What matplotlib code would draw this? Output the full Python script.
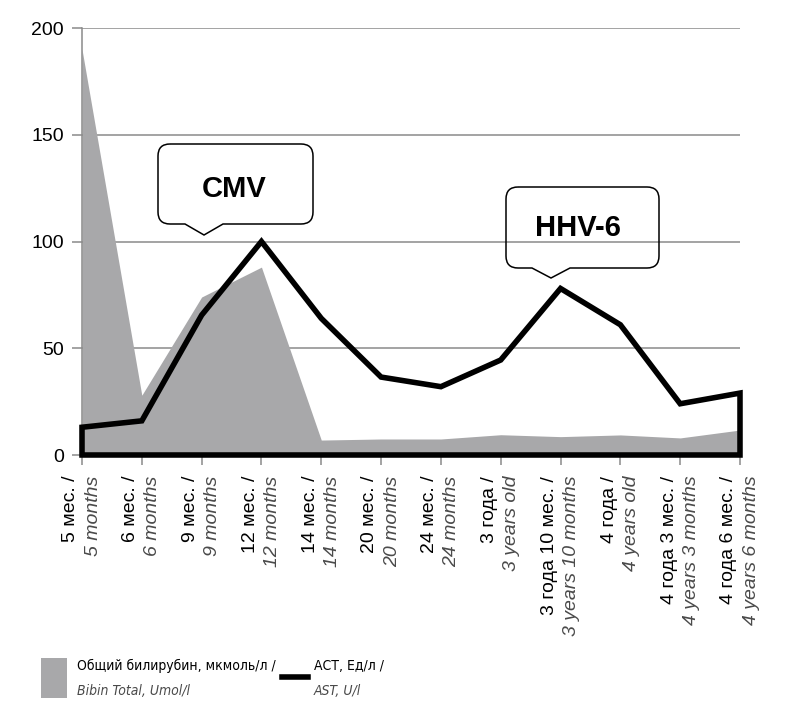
import matplotlib
matplotlib.use("Agg")
import matplotlib.pyplot as plt
from matplotlib import font_manager as fm
from matplotlib.path import Path
from matplotlib.patches import PathPatch, Rectangle
from matplotlib.lines import Line2D
from matplotlib.transforms import Affine2D, blended_transform_factory

plt.rcParams['font.family'] = ['Liberation Sans', 'DejaVu Sans']

labels_ru = ["5 мес. /", "6 мес. /", "9 мес. /", "12 мес. /", "14 мес. /", "20 мес. /",
             "24 мес. /", "3 года /", "3 года 10 мес. /", "4 года /", "4 года 3 мес. /",
             "4 года 6 мес. /"]
labels_en = ["5 months", "6 months", "9 months", "12 months", "14 months", "20 months",
             "24 months", "3 years old", "3 years 10 months", "4 years old",
             "4 years 3 months", "4 years 6 months"]
bilirubin = [190, 28, 74, 88, 7, 7.5, 7.5, 9.5, 8.6, 9.4, 8, 11.7]
ast = [13, 16, 65.5, 100, 64, 36.5, 32, 44.5, 78, 61, 24, 29]
yticks = [0, 50, 100, 150, 200]

W, H = 800, 719
fig = plt.figure(figsize=(W / 100, H / 100), dpi=100)
ax = fig.add_axes([82 / W, 1 - 455 / H, (740 - 82) / W, (455 - 28) / H])

x = list(range(len(labels_ru)))
grid_c = '#8a8a8a'
for v in yticks[1:]:
    ax.axhline(v, color=grid_c, lw=1.1, zorder=1)

ax.fill_between(x, bilirubin, 0, color='#a8a8aa', lw=0, zorder=2)

ast_x = [x[0]] + x + [x[-1]]
ast_y = [0] + ast + [0]
ax.fill(ast_x, ast_y, facecolor='none', edgecolor='black', lw=4.0,
        joinstyle='miter', zorder=3, clip_on=False)

ax.set_xlim(x[0], x[-1])
ax.set_ylim(0, 200)
ax.set_yticks(yticks)
ax.set_yticklabels([str(v) for v in yticks], fontsize=14)
ax.set_xticks(x)
ax.set_xticklabels([])
for s in ['top', 'right', 'bottom']:
    ax.spines[s].set_visible(False)
ax.spines['left'].set_color(grid_c)
ax.spines['left'].set_linewidth(1.1)
ax.tick_params(axis='y', length=7, width=1.1, color=grid_c, pad=6)
ax.tick_params(axis='x', length=7, width=1.1, color=grid_c)

trans = blended_transform_factory(ax.transData, ax.transAxes)
for i in x:
    ax.annotate(labels_ru[i], xy=(i, 0), xycoords=trans, xytext=(-8, -15),
                textcoords='offset points', rotation=90, ha='center', va='top',
                fontsize=14, color='black')
    ax.annotate(labels_en[i], xy=(i, 0), xycoords=trans, xytext=(8, -15),
                textcoords='offset points', rotation=90, ha='center', va='top',
                fontsize=14, color='#4a4a4a', style='italic')

# callouts (pixel coords, origin top-left)
px = Affine2D().scale(1 / W, -1 / H).translate(0, 1) + fig.transFigure


def callout(x0, y0, x1, y1, b0, b1, tx, ty, r=12):
    verts = [(x0 + r, y0), (x1 - r, y0), (x1, y0), (x1, y0 + r),
             (x1, y1 - r), (x1, y1), (x1 - r, y1),
             (b1, y1), (tx, ty), (b0, y1),
             (x0 + r, y1), (x0, y1), (x0, y1 - r),
             (x0, y0 + r), (x0, y0), (x0 + r, y0)]
    codes = [Path.MOVETO, Path.LINETO, Path.CURVE3, Path.CURVE3,
             Path.LINETO, Path.CURVE3, Path.CURVE3,
             Path.LINETO, Path.LINETO, Path.LINETO,
             Path.LINETO, Path.CURVE3, Path.CURVE3,
             Path.LINETO, Path.CURVE3, Path.CURVE3]
    fig.add_artist(PathPatch(Path(verts, codes), facecolor='none', edgecolor='black',
                             lw=1.1, transform=px, zorder=5))


callout(158, 144, 313, 224, 185, 223, 204, 235)
fig.text(234 / W, 1 - 189 / H, "CMV", fontsize=21, fontweight='bold',
         ha='center', va='center')
callout(506, 187, 659, 268, 532, 570, 551, 278)
fig.text(578 / W, 1 - 228 / H, "HHV-6", fontsize=21, fontweight='bold',
         ha='center', va='center')

# legend font: condensed if available
leg_kw = dict(family=['Liberation Sans', 'DejaVu Sans'], fontsize=10)
for fam, kw in [('Liberation Sans Narrow', {}), ('DejaVu Sans', {'stretch': 'condensed'})]:
    try:
        fp = fm.FontProperties(family=fam, **kw)
        path = fm.findfont(fp, fallback_to_default=False)
        if 'Narrow' in path or 'Condensed' in path:
            leg_kw = dict(family=[fam, 'Liberation Sans', 'DejaVu Sans'], fontsize=10)
            leg_kw.update(kw)
            break
    except Exception:
        pass

fig.add_artist(Rectangle((41, 658), 26, 40, transform=px, facecolor='#a8a8aa', lw=0))
fig.text(77 / W, 1 - 666 / H, "Общий билирубин, мкмоль/л /",
         ha='left', va='center', **leg_kw)
fig.text(77 / W, 1 - 691 / H, "Bibin Total, Umol/l", style='italic',
         color='#4a4a4a', ha='left', va='center', **leg_kw)
fig.add_artist(Line2D([282, 308], [677, 677], transform=px, color='black', lw=4))
fig.text(314 / W, 1 - 666 / H, "АСТ, Ед/л /",
         ha='left', va='center', **leg_kw)
fig.text(314 / W, 1 - 691 / H, "AST, U/l", style='italic',
         color='#4a4a4a', ha='left', va='center', **leg_kw)

fig.savefig('out.png', dpi=100)
